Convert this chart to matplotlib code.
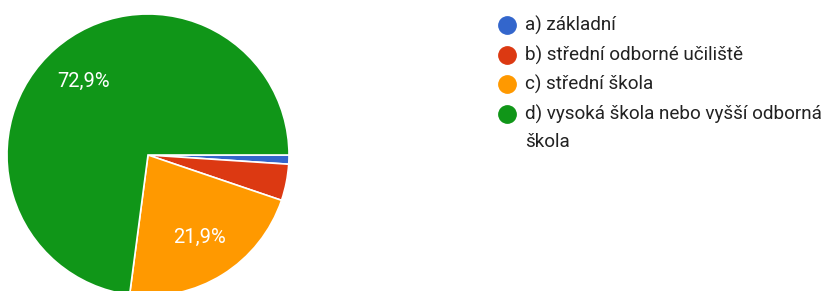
import matplotlib.pyplot as plt

# answer categories and shares (n = 96)
categories = ['a) základní', 'b) střední odborné učiliště', 'c) střední škola',
              'd) vysoká škola nebo vyšší odborná\nškola']
counts = [1, 4, 21, 70]
colors = ['#3366cc', '#dc3912', '#ff9900', '#109618']

plt.rcParams['font.family'] = ['Roboto', 'DejaVu Sans']

W, H = 824, 291
fig = plt.figure(figsize=(W / 100, H / 100), dpi=100)
ax = fig.add_axes([0, 0, 1, 1])

def pct_label(p):
    # only the big slices get a label
    if p < 10:
        return ''
    return ('%.1f%%' % p).replace('.', ',')

wedges, texts, autotexts = ax.pie(
    counts, colors=colors, startangle=0, counterclock=False,
    center=(148, H - 155), radius=141, autopct=pct_label, pctdistance=0.69,
    wedgeprops=dict(edgecolor='white', linewidth=1.2),
    textprops=dict(color='white', fontsize=14.5))

ax.set_xlim(0, W)
ax.set_ylim(0, H)
ax.set_aspect('equal')
ax.axis('off')

# legend, drawn by hand
ys = [25, 55, 84, 114]
for cat, col, y in zip(categories, colors, ys):
    ax.plot(507, H - y, 'o', color=col, markersize=12.5, clip_on=False)
    lines = cat.split('\n')
    for i, line in enumerate(lines):
        ax.text(525, H - y - 28 * i, line, fontsize=13.6, color='#222222', va='center')

fig.savefig('out.png', dpi=100, facecolor='white')
